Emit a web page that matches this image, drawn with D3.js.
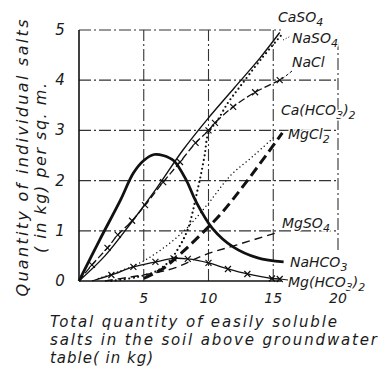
<!DOCTYPE html>
<html><head><meta charset="utf-8">
<script src="https://cdn.jsdelivr.net/npm/d3@7/dist/d3.min.js"></script>
<style>
html,body{margin:0;padding:0;background:#fff;}
text{font-family:"DejaVu Sans",sans-serif;font-style:italic;fill:#1a1a1a;}
</style></head>
<body><svg id="c" width="384" height="370"></svg>
<script>
// ---- data ----
const xTicks = [5, 10, 15, 20];
const yTicks = [0, 1, 2, 3, 4, 5];
const CaSO4 = [[0,0],[2,0.5],[4,1.15],[6,1.85],[8,2.6],[10,3.25],[12,3.85],[14,4.45],[15.5,4.95]];
const NaSO4 = [[2.5,0],[4.5,0.08],[6,0.2],[7,0.4],[7.6,0.62],[8.1,0.85],[8.5,1.1],[8.8,1.4],[9.1,1.75],[9.4,2.1],[9.7,2.5],[10,2.95],[10.7,3.2],[11.5,3.55],[12.4,3.86],[14,4.4],[15.8,4.95]];
const NaCl = [[0,0],[1,0.32],[2.2,0.66],[3,0.92],[4.1,1.2],[5.1,1.51],[6.5,1.97],[7.8,2.37],[9,2.75],[10,3.0],[10.5,3.15],[11.9,3.47],[13.6,3.76],[15.5,4.0]];
const CaHCO3 = [[1.5,0.05],[3,0.18],[5,0.4],[7,0.75],[8.5,1.1],[10,1.55],[11.7,2.1],[13.5,2.5],[15,2.85]];
const MgCl2 = [[5,0.05],[6.5,0.25],[8,0.58],[9.5,0.95],[11,1.35],[13,2.0],[15.7,2.95]];
const MgSO4 = [[2,0],[4,0.08],[6,0.17],[7.4,0.26],[9.7,0.52],[12.2,0.72],[15.5,0.98]];
const NaHCO3 = [[0,0],[1.6,0.82],[3.2,1.61],[4.2,2.15],[5,2.4],[5.8,2.52],[6.5,2.5],[7.3,2.4],[8.3,2.0],[9,1.6],[10.3,1.05],[11.9,0.68],[13.8,0.46],[15.8,0.38]];
const MgHCO3 = [[1,0],[2.5,0.12],[4.2,0.28],[5.9,0.38],[7.3,0.45],[8.4,0.44],[10,0.36],[11.5,0.24],[13,0.14],[14.9,0.05],[15.5,0.04]];

const svg = d3.select("#c");
const x = d3.scaleLinear().domain([0,20]).range([79,338]);
const y = d3.scaleLinear().domain([0,5]).range([281,30]);
const grid = "12,3,2,3";

// grid lines
svg.append("g").selectAll("line").data(yTicks.filter(d=>d>0)).join("line")
  .attr("x1",x(0)).attr("x2",d=>d===5?x(15.6):x(20)).attr("y1",d=>y(d)).attr("y2",d=>y(d))
  .attr("stroke","#333").attr("stroke-width",1.2).attr("stroke-dasharray",grid);
svg.append("g").selectAll("line").data(xTicks).join("line")
  .attr("x1",d=>x(d)).attr("x2",d=>x(d))
  .attr("y1",d=>d===20?y(0.62):y(0)).attr("y2",d=>d===20?y(4.75):y(5))
  .attr("stroke","#333").attr("stroke-width",1.1).attr("stroke-dasharray",grid);

// axes
svg.append("line").attr("x1",x(0)).attr("x2",x(0)).attr("y1",y(0)).attr("y2",y(5)).attr("stroke","#111").attr("stroke-width",1.6);
svg.append("line").attr("x1",x(0)).attr("x2",x(15.6)).attr("y1",y(0)).attr("y2",y(0)).attr("stroke","#111").attr("stroke-width",1.6);

// tick labels
svg.append("g").selectAll("text").data(yTicks).join("text")
  .attr("x",60).attr("y",d=>y(d)+5).attr("text-anchor","middle").attr("font-size",15).text(d=>d);
svg.append("g").selectAll("text").data(xTicks).join("text")
  .attr("x",d=>x(d)).attr("y",303).attr("text-anchor","middle").attr("font-size",14).text(d=>d);

// curves
const line = d3.line().x(d=>x(d[0])).y(d=>y(d[1])).curve(d3.curveCatmullRom.alpha(0.5));
function draw(data, w, dash, cap){
  svg.append("path").attr("d",line(data)).attr("fill","none").attr("stroke","#111")
    .attr("stroke-width",w).attr("stroke-dasharray",dash||null).attr("stroke-linecap",cap||"butt");
}
draw(CaSO4,1.4);
draw(NaSO4,2.2,"0,4.5","round");
draw(NaCl,1.3,"7,3");
draw(CaHCO3,1.5,"0,4","round");
draw(MgCl2,3,"10,5");
draw(MgSO4,1.4,"8,5");
draw(NaHCO3,2.8);
draw(MgHCO3,1.3);

function xmarks(data){
  const s = 3;
  svg.append("g").selectAll("path").data(data.slice(1)).join("path")
    .attr("d",d=>{const cx=x(d[0]),cy=y(d[1]);return `M${cx-s},${cy-s}L${cx+s},${cy+s}M${cx-s},${cy+s}L${cx+s},${cy-s}`;})
    .attr("stroke","#111").attr("stroke-width",1.2);
}
xmarks(NaCl);
xmarks(MgHCO3);

// curve labels
const labels = [
  {t:"CaSO", s:"4", x:278, y:22},
  {t:"NaSO", s:"4", x:292, y:43},
  {t:"NaCl", s:"", x:292, y:67},
  {t:"Ca(HCO", s:"3", s2:")", s3:"2", x:281, y:115},
  {t:"MgCl", s:"2", x:288, y:139},
  {t:"MgSO", s:"4", x:282, y:228},
  {t:"NaHCO", s:"3", x:290, y:267},
  {t:"Mg(HCO", s:"3", s2:")", s3:"2", x:288, y:287}
];
labels.forEach(l=>{
  const t = svg.append("text").attr("x",l.x).attr("y",l.y).attr("font-size",14)
    .attr("stroke","#fff").attr("stroke-width",3).attr("paint-order","stroke");
  t.append("tspan").text(l.t);
  if(l.s) t.append("tspan").attr("dy",4).attr("font-size",11).text(l.s);
  if(l.s2){ t.append("tspan").attr("dy",-4).text(l.s2); t.append("tspan").attr("dy",4).attr("font-size",11).text(l.s3); }
});
// leaders
svg.append("path").attr("d","M283,40L291,36").attr("stroke","#111").attr("stroke-dasharray","1,2").attr("fill","none");
svg.append("path").attr("d","M282,79L292,71").attr("stroke","#111").attr("stroke-dasharray","3,2").attr("fill","none");
svg.append("path").attr("d","M280,279L288,280").attr("stroke","#111").attr("fill","none");

// axis titles
svg.append("text").attr("transform","translate(28,158) rotate(-90)").attr("text-anchor","middle")
  .attr("font-size",16).attr("textLength",277).attr("lengthAdjust","spacing").text("Quantity of individual salts");
svg.append("text").attr("transform","translate(46,168) rotate(-90)").attr("text-anchor","middle")
  .attr("font-size",16).attr("textLength",170).attr("lengthAdjust","spacing").text("( in kg) per sq. m.");
const xl = ["Total quantity of easily soluble","salts in the soil above groundwater","table( in kg)"];
const xlw = [287, 327, 103];
svg.append("g").selectAll("text").data(xl).join("text")
  .attr("x",50).attr("y",(d,i)=>327+i*18).attr("font-size",15)
  .attr("textLength",(d,i)=>xlw[i]).attr("lengthAdjust","spacing").text(d=>d);
</script></body></html>
